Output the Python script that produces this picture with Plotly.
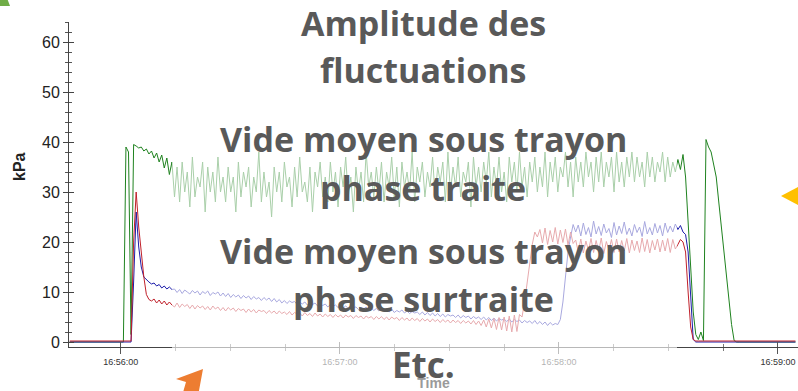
import numpy as np
import pandas as pd
import plotly.graph_objects as go

# ---------------- data (kPa), one sample every 0.7 s starting 16:55:46 ----------------
T_START = "2015-01-01 16:55:46"
DT_S = 0.7

green = [
    0, 0, 0, 0, 0, 0, 0, 0, 0, 0, 0, 0, 0, 0, 0, 0, 0, 0, 0, 0, 0, 0,
    39, 38, 1.5, 39.5,
    39.2, 38.8, 39.0, 38.2, 38.6, 37.6, 38.2, 36.8, 37.8, 36.0, 37.4, 34.8, 36.8, 33.5, 36.0,
    29, 35, 28, 36, 30, 34, 27, 37, 29, 33, 31, 36, 26, 35, 30, 34, 28, 37, 30, 33,
    28, 35, 30, 33, 26, 36, 29, 34, 31, 35, 27, 33, 30, 38, 28, 34, 29, 32, 25, 35,
    30, 34, 28, 36, 31, 33, 27, 35, 29, 37, 30, 32, 28, 35, 26, 34, 31, 36, 29, 33,
    28, 36, 30, 34, 27, 35, 31, 37, 29, 33, 26, 35, 30, 34, 28, 38, 31, 34, 29, 35,
    30, 36, 28, 34, 31, 37, 29, 35, 27, 36, 31, 34, 30, 38, 28, 35, 32, 36, 29, 34,
    31, 37, 29, 35, 32, 36, 28, 38, 30, 35, 31, 37, 29, 34, 32, 36, 27, 37, 31, 35,
    30, 36, 32, 38, 29, 35, 31, 37, 30, 34, 28, 37, 32, 36, 30, 38, 31, 35, 29, 36,
    32, 37, 30, 35, 31, 38, 29, 36, 32, 37, 30, 35, 33, 38, 31, 36, 29, 37, 32, 36,
    31, 38, 33, 36, 30, 37, 32, 38, 31, 36, 33, 37, 30, 38, 32, 36, 31, 37, 33, 38,
    32, 37, 33, 36, 31, 38, 33, 37, 32, 36, 34, 38, 32, 37, 33, 36, 34,
    36.5, 34.5, 37.5,
    33, 24, 14, 6, 1.5, 0.5, 2, 0.3,
    40.5, 39, 38, 35.5, 33, 28, 23, 18, 13, 8, 3.5, 0.3,
    0, 0, 0, 0, 0, 0, 0, 0, 0, 0, 0, 0, 0, 0, 0, 0, 0, 0, 0, 0, 0, 0, 0, 0,
]

blue = [
    0, 0, 0, 0, 0, 0, 0, 0, 0, 0, 0, 0, 0, 0, 0, 0, 0, 0, 0, 0, 0, 0, 0, 0, 0,
    12, 26, 19, 15, 13, 12.4, 12.0, 11.6, 11.8, 11.2, 11.5, 10.8, 11.2, 10.6, 11.0, 10.5,
    10.6, 9.9, 10.5, 9.7, 10.4, 10.0, 9.6, 10.3, 9.8, 10.2, 9.4, 10.1, 9.7, 10.2, 9.3, 9.9, 9.6, 10.0, 9.2, 9.8,
    9.1, 9.7, 8.9, 9.5, 9.0, 9.4, 8.7, 9.3, 8.8, 9.2, 8.5, 9.1, 8.6, 8.9, 8.3, 8.9, 8.4, 8.8, 8.1, 8.7,
    8.0, 8.5, 7.8, 8.3, 7.7, 8.2, 7.9, 8.1, 7.5, 8.0, 7.6, 8.0, 7.4, 7.9, 7.5, 7.8, 7.2, 7.7, 7.3, 7.6,
    7.0, 7.5, 7.1, 7.4, 6.9, 7.3, 6.8, 7.2, 6.7, 7.1, 6.9, 7.0, 6.5, 6.9, 6.6, 7.0, 6.4, 6.8, 6.3, 6.7,
    6.2, 6.7, 6.1, 6.5, 6.0, 6.6, 5.9, 6.3, 6.0, 6.4, 5.8, 6.2, 5.7, 6.1, 5.8, 6.0, 5.5, 6.0, 5.4, 5.9,
    5.3, 5.8, 5.2, 5.7, 5.1, 5.6, 5.0, 5.5, 5.2, 5.4, 4.9, 5.4, 4.8, 5.3, 4.9, 5.2, 4.6, 5.1, 4.7, 5.0,
    4.5, 5.0, 4.4, 4.9, 4.3, 4.8, 4.2, 4.7, 4.4, 4.6, 4.1, 4.6, 4.0, 4.5, 4.1, 4.4, 3.8, 4.3, 3.9, 4.2,
    3.7, 4.3, 3.6, 4.1, 3.5, 4.0, 3.3, 3.9, 3.4, 3.7, 3.5,
    4.5, 8, 13, 18, 21, 23.5, 22,
    23.4, 21.2, 23.8, 21.5, 22.9, 21.0, 24.2, 21.6, 23.1, 21.3, 23.6, 21.8, 22.7, 20.9, 23.9, 21.4, 23.2, 21.7, 24.0, 21.5,
    22.8, 21.2, 23.5, 21.9, 23.0, 21.1, 24.1, 21.6, 22.9, 21.4, 23.7, 21.8, 23.3, 21.2, 23.8, 21.9, 23.2, 22.0, 23.6,
    22.5, 23.3, 22, 21.5, 18, 8, 0.5,
    0, 0, 0, 0, 0, 0, 0, 0, 0, 0, 0, 0, 0, 0, 0, 0, 0, 0, 0, 0,
    0, 0, 0, 0, 0, 0, 0, 0, 0, 0, 0, 0, 0, 0, 0, 0, 0, 0, 0, 0,
]

red = [
    0.2, 0.2, 0.2, 0.2, 0.2, 0.2, 0.2, 0.2, 0.2, 0.2, 0.2, 0.2, 0.2, 0.2, 0.2, 0.2, 0.2, 0.2, 0.2, 0.2, 0.2, 0.2, 0.2, 0.2, 0.2,
    20, 30, 23, 18, 13, 9.5, 8.5, 8.2, 8.6, 7.8, 8.4, 7.6, 8.2, 7.4, 8.0, 7.4,
    7.0, 7.8, 6.9, 7.6, 7.1, 7.5, 6.7, 7.4, 6.6, 7.3, 6.8, 7.2, 6.5, 7.1, 6.4, 7.2, 6.6, 7.0, 6.3, 6.9,
    6.2, 6.9, 6.4, 6.8, 6.1, 6.7, 6.3, 6.6, 5.9, 6.6, 6.0, 6.5, 5.8, 6.4, 6.1, 6.3, 5.7, 6.3, 5.8, 6.2,
    5.6, 6.2, 5.7, 6.0, 5.5, 6.1, 5.4, 5.9, 5.6, 5.8, 5.2, 5.9, 5.3, 5.7, 5.1, 5.8, 5.2, 5.6, 5.0, 5.6,
    5.1, 5.5, 4.9, 5.5, 5.0, 5.4, 4.8, 5.4, 5.0, 5.3, 4.7, 5.3, 4.9, 5.2, 4.6, 5.2, 4.8, 5.1, 4.5, 5.1,
    4.6, 5.1, 4.5, 5.0, 4.4, 5.0, 4.6, 4.9, 4.3, 4.9, 4.4, 4.8, 4.2, 4.8, 4.3, 4.7, 4.1, 4.7, 4.2, 4.6,
    4.0, 4.6, 4.1, 4.5, 3.9, 4.5, 4.0, 4.4, 3.8, 4.4, 3.9, 4.3, 3.7, 4.3, 3.8, 4.2, 3.6, 4.3, 3.5, 4.2,
    3.3, 4.4, 3.0, 4.6, 2.8, 4.7, 2.5, 4.9, 2.4, 5.0, 2.2, 5.2, 2.0, 5.4, 2.1, 5.5,
    5, 8, 12, 16, 19.5, 22, 21,
    22.5, 19.8, 22.8, 19.5, 22.3, 20.0, 22.9, 19.6, 22.4, 19.9, 22.6, 19.4, 22.0, 19.7,
    20.4, 18.0, 20.6, 17.8, 20.2, 18.3, 20.7, 17.9, 20.3, 18.1, 20.8, 17.7, 20.1, 18.4, 20.5, 17.9, 20.6, 18.0, 20.3, 18.2,
    20.7, 17.8, 20.4, 18.3, 20.2, 17.9, 20.8, 18.1, 20.5, 17.8, 20.3, 18.4, 20.6, 18.0, 20.4, 18.2, 20.7, 17.9, 20.5, 18.6,
    19.5, 20.5, 20, 18, 10, 3, 0.5,
    0.2, 0.2, 0.2, 0.2, 0.2, 0.2, 0.2, 0.2, 0.2, 0.2, 0.2, 0.2, 0.2, 0.2, 0.2, 0.2, 0.2, 0.2, 0.2, 0.2,
    0.2, 0.2, 0.2, 0.2, 0.2, 0.2, 0.2, 0.2, 0.2, 0.2, 0.2, 0.2, 0.2, 0.2, 0.2, 0.2, 0.2, 0.2, 0.2, 0.2,
]

X_RANGE = ["2015-01-01 16:55:45.8", "2015-01-01 16:59:05.5"]
X_TICKS = ["2015-01-01 16:56:00", "2015-01-01 16:57:00", "2015-01-01 16:58:00", "2015-01-01 16:59:00"]
X_TICK_LABELS = ["16:56:00", "16:57:00", "16:58:00", "16:59:00"]
Y_RANGE = [-1, 64]
Y_TICKS = [0, 10, 20, 30, 40, 50, 60]

TEXT_LINES = ["Amplitude des", "fluctuations", "Vide moyen sous trayon", "phase traite",
              "Vide moyen sous trayon", "phase surtraite", "Etc."]

# ---------------- figure ----------------
W, H = 798, 391
ML, MR, MT, MB = 69, 0, 22, 44
PW, PH = W - ML - MR, H - MT - MB


def pxx(px):
    return (px - ML) / PW


def pxy(py):
    return (H - MB - py) / PH


def t_axis(values):
    return pd.Timestamp(T_START) + pd.to_timedelta(np.arange(len(values)) * DT_S, unit="s")


fig = go.Figure()
for vals, col in [(green, "#1f821f"), (blue, "#1c1caa"), (red, "#c0202a")]:
    fig.add_trace(go.Scatter(x=t_axis(vals), y=vals, mode="lines",
                             line=dict(color=col, width=1), hoverinfo="skip", showlegend=False))
fig.add_trace(go.Scatter(x=[], y=[], xaxis="x2", yaxis="y2", showlegend=False))

tick_font = dict(family="Arial", size=9, color="#333")
fig.update_layout(
    width=W, height=H, margin=dict(l=ML, r=MR, t=MT, b=MB),
    paper_bgcolor="white", plot_bgcolor="white", showlegend=False,
    xaxis=dict(type="date", range=X_RANGE, showgrid=False, zeroline=False,
               showline=True, linecolor="#444", linewidth=1,
               tickmode="array", tickvals=X_TICKS, ticktext=X_TICK_LABELS,
               ticks="outside", ticklen=6, tickcolor="#555", tickfont=tick_font,
               minor=dict(ticks="outside", ticklen=3, dtick=15000, tick0=X_TICKS[0], tickcolor="#777"),
               title=dict(text="<b>Time</b>", font=dict(family="Arial", size=14, color="#9a9a9a"),
                          standoff=12)),
    xaxis2=dict(type="date", range=X_RANGE, overlaying="x", anchor="y", side="bottom",
                showgrid=False, zeroline=False, showline=False, showticklabels=False,
                tickmode="array", tickvals=X_TICKS, ticks="inside", ticklen=5, tickcolor="#555",
                minor=dict(ticks="inside", ticklen=3, dtick=15000, tick0=X_TICKS[0], tickcolor="#777")),
    yaxis=dict(range=Y_RANGE, showgrid=False, zeroline=False, showline=True, linecolor="#444",
               linewidth=1, tickmode="array", tickvals=Y_TICKS, ticks="outside", ticklen=5,
               tickcolor="#444", tickfont=dict(family="Arial", size=16, color="#222"),
               minor=dict(ticks="outside", ticklen=3, dtick=2, tick0=0, tickcolor="#555")),
    yaxis2=dict(range=Y_RANGE, overlaying="y", anchor="x", side="left", showgrid=False,
                zeroline=False, showline=False, showticklabels=False,
                tickmode="array", tickvals=Y_TICKS, ticks="inside", ticklen=5, tickcolor="#444",
                minor=dict(ticks="inside", ticklen=3, dtick=2, tick0=0, tickcolor="#555")),
)

# faded (highlight) band over the middle of the record
fig.add_shape(type="rect", xref="paper", yref="paper", x0=pxx(172), x1=pxx(677),
              y0=pxy(H + 5), y1=pxy(-5), fillcolor="white", opacity=0.62,
              line=dict(width=0), layer="above")


def poly(points):
    return "M " + " L ".join(f"{pxx(a):.5f},{pxy(b):.5f}" for a, b in points) + " Z"


fig.add_shape(type="path", xref="paper", yref="paper", path=poly([(0, -2), (7, -2), (10, 6), (0, 6)]),
              fillcolor="#70ad47", line=dict(width=0), layer="above")
fig.add_shape(type="path", xref="paper", yref="paper",
              path=poly([(203, 369), (176, 379), (186, 382), (182, 396), (198, 396)]),
              fillcolor="#ed7d31", line=dict(width=0), layer="above")
fig.add_shape(type="path", xref="paper", yref="paper",
              path=poly([(781, 196), (800, 186), (800, 206)]),
              fillcolor="#ffc000", line=dict(width=0), layer="above")

text_y = [23, 70, 139, 188, 251, 299, 364]
for txt, ty in zip(TEXT_LINES, text_y):
    fig.add_annotation(text=f"<b>{txt}</b>", xref="paper", yref="paper", x=pxx(423), y=pxy(ty),
                       xanchor="center", yanchor="middle", showarrow=False,
                       font=dict(family="Open Sans", size=35 if txt == "Etc." else 34, color="#595959"))

fig.add_annotation(text="<b>kPa</b>", xref="paper", yref="paper", x=pxx(19), y=pxy(167),
                   xanchor="center", yanchor="middle", textangle=-90, showarrow=False,
                   font=dict(family="Arial", size=16, color="#222"))

fig.write_html("out.html")
